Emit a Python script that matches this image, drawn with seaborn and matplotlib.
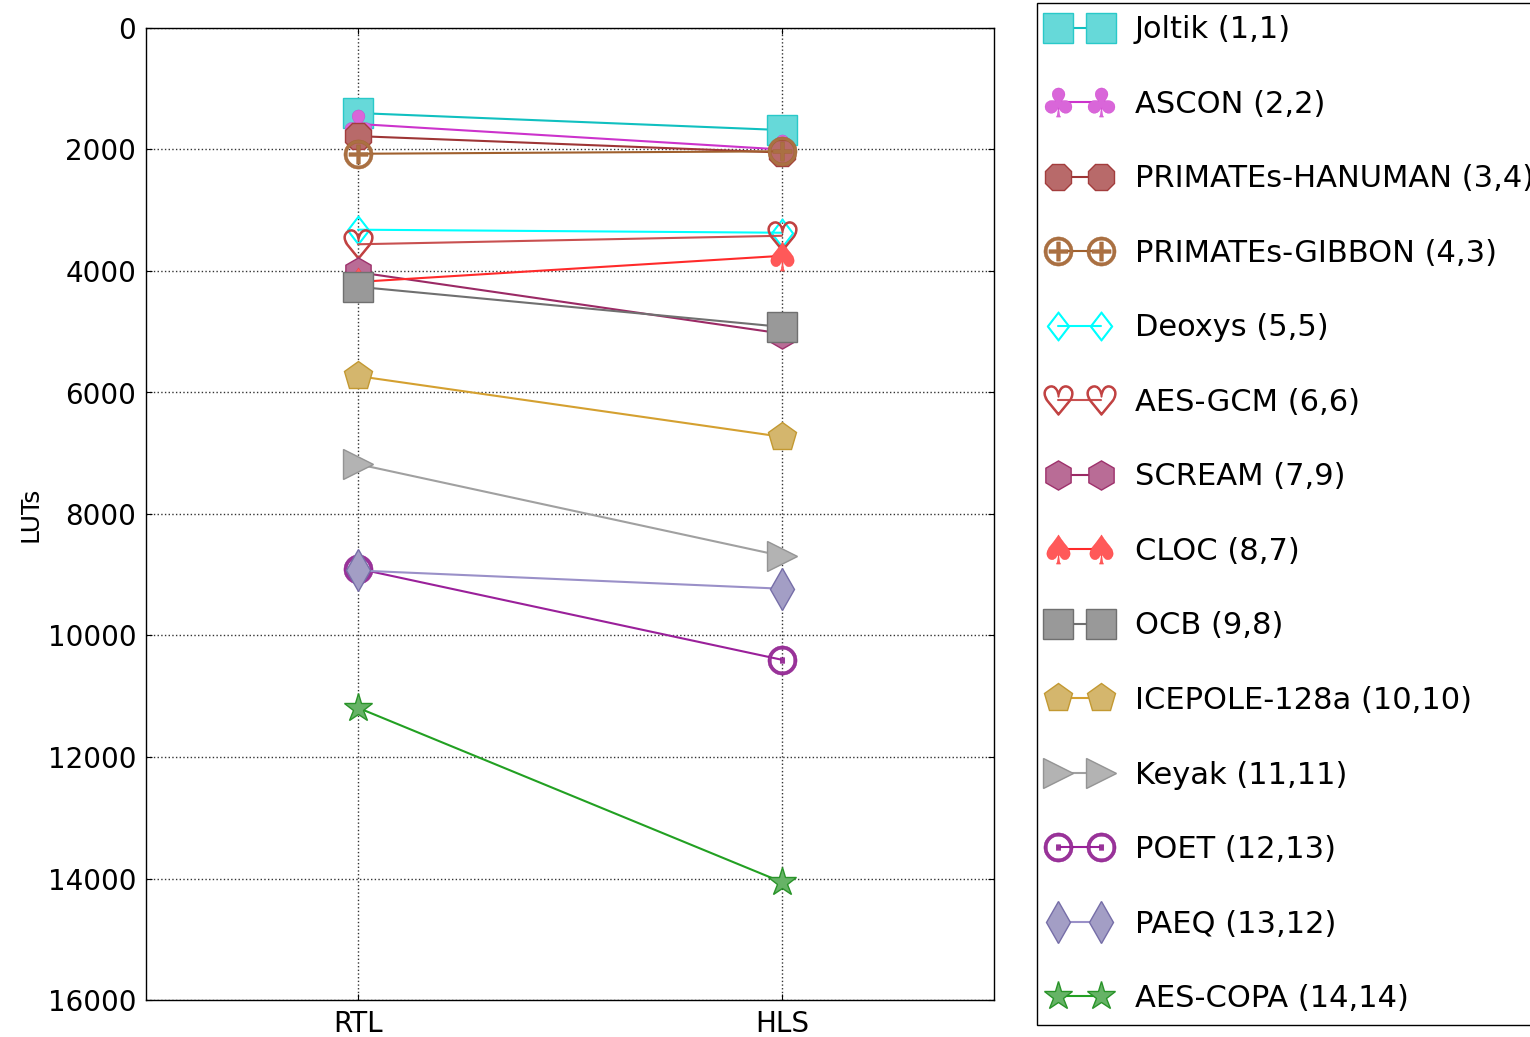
import matplotlib
matplotlib.use("Agg")
import matplotlib.pyplot as plt
from matplotlib.colors import to_rgb
import pandas as pd
import seaborn as sns

# Implementations compared
impls = ["RTL", "HLS"]

# Cipher names with their (RTL, HLS) rank
ciphers = ["Joltik (1,1)", "ASCON (2,2)", "PRIMATEs-HANUMAN (3,4)", "PRIMATEs-GIBBON (4,3)",
           "Deoxys (5,5)", "AES-GCM (6,6)", "SCREAM (7,9)", "CLOC (8,7)", "OCB (9,8)",
           "ICEPOLE-128a (10,10)", "Keyak (11,11)", "POET (12,13)", "PAEQ (13,12)",
           "AES-COPA (14,14)"]

# LUT usage per cipher
luts_rtl = [1400, 1580, 1780, 2070, 3320, 3560, 4020, 4180, 4260, 5730, 7180, 8900, 8930, 11190]
luts_hls = [1680, 2000, 2050, 2030, 3370, 3420, 5030, 3750, 4920, 6730, 8690, 10400, 9230, 14060]

# Per-series styling
markers = ["s", r"$\clubsuit$", "8", r"$\oplus$", r"$\diamondsuit$", r"$\heartsuit$", "h",
           r"$\spadesuit$", "s", "p", ">", r"$\odot$", "d", "*"]
line_colors = ["#10c0c0", "#cc33cc", "#9e3535", "#a0602d", "#00ffff", "#c85050", "#9b2a65",
               "#ff2a2a", "#707070", "#d4a030", "#a0a0a0", "#9a209a", "#9a90c8", "#22a022"]
marker_colors = ["#00bfbf", "#c000c0", "#9a2a2a", "#a0602d", "#00ffff", "#c04040", "#8b0a50",
                 "#ff0000", "#555555", "#b8860b", "#808080", "#800080", "#483d8b", "#008000"]
marker_alpha = [0.6, 0.6, 0.7, 0.9, 1.0, 0.9, 0.6, 0.65, 0.6, 0.6, 0.6, 0.8, 0.5, 0.6]
marker_edge = [1.0, 0.2, 1.0, 0.3, 0.8, 1.1, 1.0, 0.2, 1.0, 1.0, 1.0, 0.3, 1.0, 1.0]


def over_white(color, alpha):
    """Flatten a translucent colour onto a white background."""
    r, g, b = to_rgb(color)
    return tuple(alpha * c + (1 - alpha) for c in (r, g, b))


rows = []
for name, r, h in zip(ciphers, luts_rtl, luts_hls):
    rows.append({"cipher": name, "impl": impls[0], "luts": r})
    rows.append({"cipher": name, "impl": impls[1], "luts": h})
df = pd.DataFrame(rows)

sns.set_style("white")
plt.rcParams.update({
    "font.family": ["DejaVu Sans"],
    "text.color": "black",
    "axes.labelcolor": "black",
    "axes.edgecolor": "black",
    "axes.linewidth": 1.0,
    "xtick.direction": "in",
    "ytick.direction": "in",
    "xtick.top": True,
    "ytick.right": True,
    "xtick.bottom": True,
    "ytick.left": True,
    "xtick.major.size": 4,
    "ytick.major.size": 4,
    "xtick.color": "black",
    "ytick.color": "black",
})

W, H = 1530, 1037
fig = plt.figure(figsize=(W / 100, H / 100), dpi=100)
ax = fig.add_axes([146 / W, 1 - 1000 / H, (994 - 146) / W, (1000 - 28) / H])

for i, name in enumerate(ciphers):
    sub = df[df["cipher"] == name]
    a = marker_alpha[i]
    face = over_white(marker_colors[i], a)
    edge = over_white(marker_colors[i], 1 - (1 - a) ** 2)
    sns.lineplot(data=sub, x="impl", y="luts", ax=ax, sort=False, errorbar=None,
                 color=line_colors[i], linewidth=1.5,
                 marker=markers[i], markersize=21,
                 markerfacecolor=face, markeredgecolor=edge,
                 markeredgewidth=marker_edge[i],
                 label=name, legend=False)

ax.set_xlim(-0.5, 1.5)
ax.set_ylim(16000, 0)
ax.set_yticks(range(0, 16001, 2000))
ax.tick_params(axis="both", labelsize=20, pad=7, colors="black")
ax.set_xlabel("")
ax.set_ylabel("LUTs", fontsize=18, labelpad=4)
ax.grid(True, color="#333333", linestyle=":", linewidth=1.0)
for s in ax.spines.values():
    s.set_visible(True)
    s.set_color("black")

handles, labels = ax.get_legend_handles_labels()
leg = fig.legend(handles, labels, loc="upper left",
                 bbox_to_anchor=(1037 / W, 1 - 3 / H), borderaxespad=0,
                 fontsize=22, numpoints=2, handlelength=2.0, handletextpad=0.8,
                 labelspacing=1.49, borderpad=0.4, frameon=True, fancybox=False)
leg.get_frame().set_edgecolor("black")
leg.get_frame().set_linewidth(1.0)
leg.get_frame().set_alpha(1.0)
for t in leg.get_texts():
    t.set_color("black")

fig.savefig("out.png", dpi=100)
